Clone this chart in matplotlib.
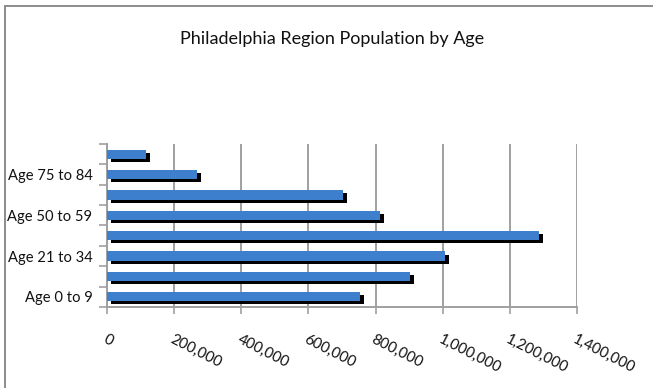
import matplotlib
matplotlib.use("Agg")
import matplotlib.pyplot as plt
import matplotlib.patheffects as pe
from matplotlib.patches import Rectangle
import numpy as np

plt.rcParams['font.family'] = ['Lato', 'DejaVu Sans']

# age groups, bottom to top
ages = ["Age 0 to 9", "Age 10 to 20", "Age 21 to 34", "Age 35 to 49",
        "Age 50 to 59", "Age 60 to 74", "Age 75 to 84", "Age 85+"]
population = [754000, 903000, 1007000, 1287000, 813000, 703000, 268000, 116000]
xticks = [0, 200000, 400000, 600000, 800000, 1000000, 1200000, 1400000]

fig = plt.figure(figsize=(6.53, 3.88), dpi=100)
ax = fig.add_axes([0.1639, 0.2088, 0.7197, 0.4201])

# chart border (only the top and left edges are visible)
fig.patches.append(Rectangle((4.5 / 653, -0.1), 1.2, 1.1 - 6.5 / 388,
                             transform=fig.transFigure, fill=False,
                             edgecolor='#8c8c8c', linewidth=1.4))

y = np.arange(len(ages))
bars = ax.barh(y, population, height=0.45, color='#3E7FCD', zorder=3)
for b in bars:
    b.set_path_effects([pe.SimplePatchShadow(offset=(2.6, -2.2), shadow_rgbFace='black', alpha=1.0),
                        pe.Normal()])

ax.set_xlim(0, 1400000)
ax.set_ylim(-0.5, len(ages) - 0.5)
ax.set_xticks(xticks)
ax.set_xticklabels([f"{v:,}" for v in xticks], rotation=-27, ha='left', va='top',
                   rotation_mode='anchor', fontsize=10.8, color='#111111')
ax.tick_params(axis='x', length=5, width=1.2, color='#a0a0a0', pad=13)

ax.set_yticks(y)
ax.set_yticklabels([a if i % 2 == 0 else "" for i, a in enumerate(ages)],
                   fontsize=10.6, color='#111111')
ax.tick_params(axis='y', which='major', length=0, pad=10.5)
ax.set_yticks(np.arange(len(ages) + 1) - 0.5, minor=True)
ax.tick_params(axis='y', which='minor', length=6, width=1.2, color='#a0a0a0')

ax.grid(axis='x', color='#a0a0a0', linewidth=1.4, zorder=0)
for s in ['top', 'right']:
    ax.spines[s].set_visible(False)
for s in ['left', 'bottom']:
    ax.spines[s].set_color('#a0a0a0')
    ax.spines[s].set_linewidth(1.4)

fig.text(0.508, 0.9, "Philadelphia Region Population by Age", ha='center', va='center',
         fontsize=13, color='#111111')

fig.savefig("out.png", dpi=100)
